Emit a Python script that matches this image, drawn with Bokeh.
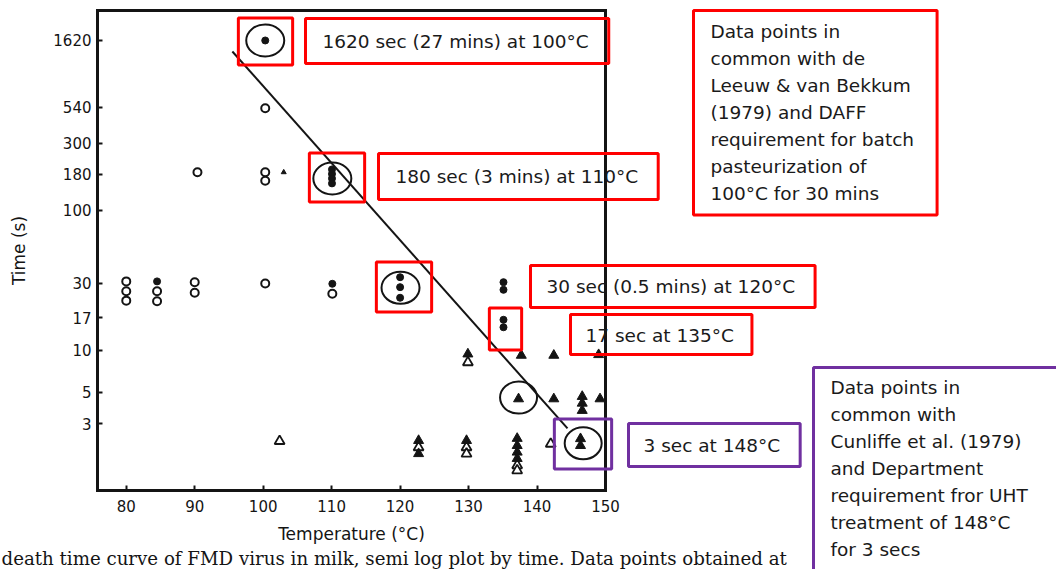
import math
from bokeh.plotting import figure
from bokeh.models import (Label, FixedTicker, NumeralTickFormatter, Range1d,
                          LinearAxis, LogAxis)
from bokeh.embed import file_html
from bokeh.resources import INLINE

# ---------------- data ----------------
x_ticks = [80, 90, 100, 110, 120, 130, 140, 150]
y_ticks = [3, 5, 10, 17, 30, 100, 180, 300, 540, 1620]

open_circle_temp = [80, 80, 80, 84.5, 84.5, 90, 90, 90.4, 100.3, 100.3, 100.3, 100.3, 110.1]
open_circle_time = [31, 26.4, 22.6, 26.4, 22.4, 30.6, 25.7, 186, 532, 186, 162, 29.9, 25.3]

filled_circle_temp = [84.5, 100.3, 110.05, 110.05, 110.05, 110.05, 110.1,
                      120, 120, 120, 135.1, 135.1, 135.1, 135.1]
filled_circle_time = [31, 1620, 195, 181, 168, 155, 29.8,
                      33.2, 28.2, 23.7, 30.6, 27.0, 16.5, 14.6]

open_tri_temp = [102.4, 122.7, 129.7, 129.7, 129.9, 137.1, 137.1, 142.0]
open_tri_time = [2.25, 2.03, 2.03, 1.83, 8.2, 1.51, 1.39, 2.15]

filled_tri_temp = [122.7, 122.7, 129.7, 129.9, 137.1, 137.1, 137.1, 137.1,
                   137.7, 142.45, 149.0, 137.3, 142.45, 146.6, 146.6, 146.6,
                   149.2, 146.35, 146.35]
filled_tri_time = [2.27, 1.83, 2.27, 9.4, 2.35, 2.09, 1.875, 1.69,
                   9.2, 9.2, 9.3, 4.5, 4.5, 4.68, 4.19, 3.72,
                   4.5, 2.34, 2.09]

small_tri_temp = [103.0]
small_tri_time = [186]

fit_temp = [95.5, 144.45]
fit_time = [1351, 2.77]

ring_temp = [100.3, 110.1, 120.06, 137.3, 146.74]
ring_time = [1620, 168, 27.9, 4.6, 2.17]

# ---------------- layout helpers (reference pixel -> data) ----------------
W, H = 1056, 569
FL, FR, FT, FB = 97, 605, 10, 490      # plot box in picture pixels
X0, X1 = 75.8, 150.0                   # data at plot box edges
Y0, Y1 = 1.0, 2650.0


def dx(X):
    return X0 + (X - FL) * (X1 - X0) / (FR - FL)


def dy(Y):
    l0, l1 = math.log10(Y0), math.log10(Y1)
    return 10 ** (l1 - (Y - FT) * (l1 - l0) / (FB - FT))


INK = "#141414"
RED = "#ff0000"
PURPLE = "#7030a0"

# the frame covers the whole canvas; the plot box is drawn by fixed axes
p = figure(width=W, height=H, x_range=Range1d(dx(0), dx(W)),
           y_range=Range1d(dy(H), dy(0)), y_axis_type="log",
           output_backend="svg", toolbar_location=None,
           min_border_left=0, min_border_right=0,
           min_border_top=0, min_border_bottom=0)
p.title.text = ""
p.grid.visible = False
p.background_fill_color = "white"
p.border_fill_color = "white"
p.outline_line_color = None

xa = p.xaxis[0]
ya = p.yaxis[0]
xa.fixed_location = Y0
xa.bounds = (X0, X1)
ya.fixed_location = X0
ya.bounds = (Y0, Y1)

top_ax = LinearAxis(fixed_location=Y1, bounds=(X0, X1), ticker=FixedTicker(ticks=[]))
right_ax = LogAxis(fixed_location=X1, bounds=(Y0, Y1), ticker=FixedTicker(ticks=[]))
p.add_layout(top_ax, "above")
p.add_layout(right_ax, "right")

for ax in (xa, ya, top_ax, right_ax):
    ax.axis_line_color = INK
    ax.axis_line_width = 3
    ax.axis_line_cap = "square"
    ax.major_tick_in = 5
    ax.major_tick_out = 0
    ax.major_tick_line_color = INK
    ax.major_tick_line_width = 2
    ax.minor_tick_line_color = None
    ax.major_label_text_font = "DejaVu Sans"
    ax.major_label_text_font_size = "15px"
    ax.major_label_text_color = INK
    ax.axis_label_text_font = "DejaVu Sans"
    ax.axis_label_text_font_style = "normal"
    ax.axis_label_text_color = INK

xa.ticker = FixedTicker(ticks=x_ticks)
ya.ticker = FixedTicker(ticks=y_ticks)
ya.formatter = NumeralTickFormatter(format="0")
xa.major_label_standoff = 9
ya.major_label_standoff = 6
xa.axis_label = "Temperature (°C)"
xa.axis_label_text_font_size = "17px"
xa.axis_label_standoff = 9
ya.axis_label = "Time (s)"
ya.axis_label_text_font_size = "17px"
ya.axis_label_standoff = 21

# regression line
p.line(fit_temp, fit_time, line_color=INK, line_width=2)

# rings around highlighted points
p.ellipse(x=ring_temp[:3], y=ring_time[:3], width=38, height=32,
          width_units="screen", height_units="screen",
          fill_color=None, line_color=INK, line_width=2)
p.ellipse(x=ring_temp[3:], y=ring_time[3:], width=37, height=32,
          width_units="screen", height_units="screen",
          fill_color=None, line_color=INK, line_width=2)

# data points
p.scatter(open_circle_temp, open_circle_time, marker="circle", size=8,
          fill_color="white", line_color=INK, line_width=2)
p.scatter(filled_circle_temp, filled_circle_time, marker="circle", size=7,
          fill_color=INK, line_color=INK, line_width=1)
p.scatter(open_tri_temp, open_tri_time, marker="triangle", size=10,
          fill_color="white", line_color=INK, line_width=1.8)
p.scatter(filled_tri_temp, filled_tri_time, marker="triangle", size=10,
          fill_color=INK, line_color=INK, line_width=1)
p.scatter(small_tri_temp, small_tri_time, marker="triangle", size=5,
          fill_color=INK, line_color=INK, line_width=1)


# highlight boxes around points (screen-sized frames)
def frame_box(cx, cy, w, h, color):
    p.add_layout(Label(x=dx(cx), y=dy(cy), text=" ", anchor="center",
                       text_font_size="1px", text_color=color,
                       border_line_color=color, border_line_width=3,
                       background_fill_color=None,
                       padding=dict(left=w // 2, right=w - w // 2,
                                    top=h // 2, bottom=h - h // 2)))


frame_box(265, 41, 54, 46, RED)
frame_box(336.5, 177, 55, 48, RED)
frame_box(403.5, 286.5, 55, 49, RED)
frame_box(505, 328.5, 32, 41, RED)
frame_box(582.5, 443.5, 57, 49, PURPLE)


# text boxes (transparent, framed)
def text_box(X, Y, text, color, pad, lh=1.2):
    p.add_layout(Label(x=dx(X), y=dy(Y), text=text, anchor="top_left",
                       text_font="DejaVu Sans", text_font_size="18.5px",
                       text_color="#1a1a1a", text_line_height=lh,
                       border_line_color=color, border_line_width=3,
                       background_fill_color=None,
                       padding=dict(left=pad[0], right=pad[1],
                                    top=pad[2], bottom=pad[3])))


text_box(305, 18, "1620 sec (27 mins) at 100°C", RED, (17, 20, 12, 12))
text_box(378, 153, "180 sec (3 mins) at 110°C", RED, (17, 20, 12, 13))
text_box(530, 265, "30 sec (0.5 mins) at 120°C", RED, (16, 20, 10, 11))
text_box(570, 314, "17 sec at 135°C", RED, (15, 18, 10, 9))
text_box(628, 423, "3 sec at 148°C", PURPLE, (15, 20, 11, 11))
text_box(693, 10, "Data points in\ncommon with de\nLeeuw & van Bekkum\n(1979) and DAFF\n"
         "requirement for batch\npasteurization of\n100°C for 30 mins",
         RED, (17, 23, 10, 11), lh=1.29)
text_box(813, 367, "Data points in\ncommon with\nCunliffe et al. (1979)\nand Department\n"
         "requirement fror UHT\ntreatment of 148°C\nfor 3 secs",
         PURPLE, (17, 60, 9, 40), lh=1.29)

# caption of the scanned figure, kept just inside the bottom edge
p.add_layout(Label(x=dx(1), y=dy(568), anchor="bottom_left",
                   text="death time curve of FMD virus in milk, semi log plot by time. Data points obtained at",
                   text_font="DejaVu Serif", text_font_size="18.2px",
                   text_color=INK))

open("out.html", "w").write(file_html(p, INLINE))
